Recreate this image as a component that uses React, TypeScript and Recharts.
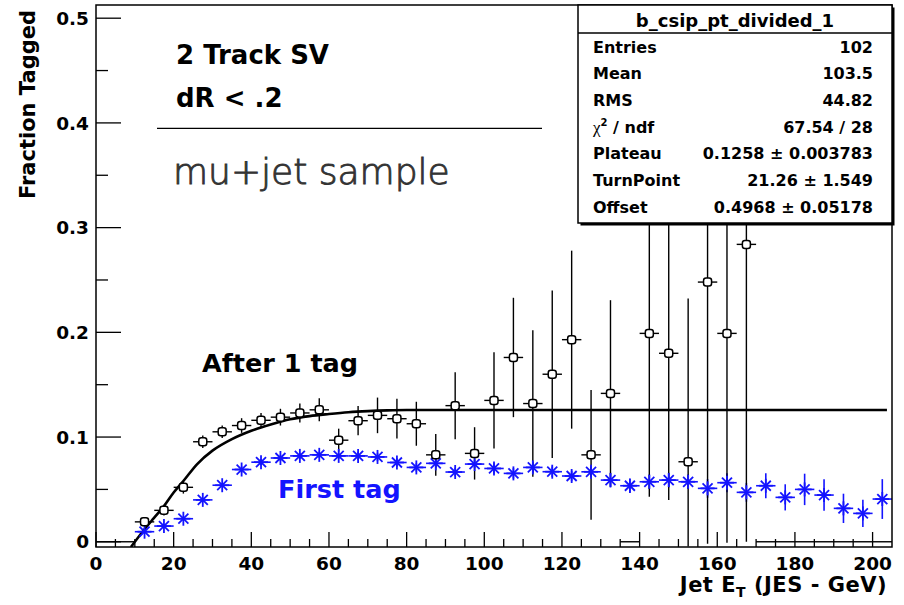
import { ComposedChart, Scatter, Line, XAxis, YAxis, ErrorBar } from "recharts";

// bin half width of the histogram (GeV)
const BIN_HALF = 2.5;

// "After 1 tag" (black open markers)
const afterX = [2.5, 7.5, 12.5, 17.5, 22.5, 27.5, 32.5, 37.5, 42.5, 47.5, 52.5, 57.5, 62.5, 67.5, 72.5, 77.5, 82.5, 87.5, 92.5, 97.5, 102.5, 107.5, 112.5, 117.5, 122.5, 127.5, 132.5, 137.5, 142.5, 147.5, 152.5, 157.5, 162.5, 167.5, 172.5, 177.5, 182.5, 187.5, 192.5, 197.5, 202.5];
const afterY = [0, 0, 0.019, 0.030, 0.052, 0.0955, 0.105, 0.111, 0.116, 0.119, 0.123, 0.126, 0.097, 0.1156, 0.1207, 0.1175, 0.1127, 0.083, 0.130, 0.0844, 0.135, 0.176, 0.132, 0.160, 0.193, 0.083, 0.1417, 0, 0.199, 0.180, 0.0764, 0.248, 0.199, 0.284, 0, 0, 0, 0, 0, 0, 0];
// lower / upper error, as far as they are visible inside the frame
const afterErrLow = [0, 0, 0.004, 0.005, 0.006, 0.006, 0.006, 0.007, 0.007, 0.008, 0.009, 0.011, 0.011, 0.014, 0.017, 0.019, 0.021, 0.020, 0.032, 0.025, 0.046, 0.057, 0.07, 0.08, 0.085, 0.062, 0.089, 0, 0.156, 0.14, 0.081, 0.25, 0.2, 0.284, 0, 0, 0, 0, 0, 0, 0];
const afterErrHigh = [0, 0, 0.004, 0.005, 0.006, 0.006, 0.006, 0.007, 0.007, 0.008, 0.009, 0.011, 0.011, 0.014, 0.017, 0.019, 0.021, 0.020, 0.032, 0.025, 0.046, 0.057, 0.07, 0.08, 0.085, 0.062, 0.089, 0, 0.156, 0.14, 0.156, 0.25, 0.2, 0.228, 0, 0, 0, 0, 0, 0, 0];

// "First tag" (blue stars)
const firstX = [12.5, 17.5, 22.5, 27.5, 32.5, 37.5, 42.5, 47.5, 52.5, 57.5, 62.5, 67.5, 72.5, 77.5, 82.5, 87.5, 92.5, 97.5, 102.5, 107.5, 112.5, 117.5, 122.5, 127.5, 132.5, 137.5, 142.5, 147.5, 152.5, 157.5, 162.5, 167.5, 172.5, 177.5, 182.5, 187.5, 192.5, 197.5, 202.5];
const firstY = [0.0096, 0.015, 0.022, 0.040, 0.054, 0.069, 0.076, 0.080, 0.082, 0.083, 0.082, 0.082, 0.081, 0.0757, 0.071, 0.0749, 0.0666, 0.0742, 0.070, 0.0653, 0.071, 0.0669, 0.0628, 0.0668, 0.0589, 0.0535, 0.0573, 0.0589, 0.0573, 0.051, 0.0564, 0.0472, 0.0535, 0.0424, 0.050, 0.0446, 0.0319, 0.0271, 0.0408];
const firstErr = [0.002, 0.002, 0.002, 0.002, 0.002, 0.003, 0.003, 0.003, 0.003, 0.003, 0.003, 0.004, 0.004, 0.004, 0.004, 0.004, 0.004, 0.004, 0.005, 0.005, 0.005, 0.005, 0.005, 0.005, 0.007, 0.007, 0.007, 0.007, 0.007, 0.009, 0.009, 0.009, 0.012, 0.0125, 0.015, 0.015, 0.014, 0.013, 0.019];

// fitted turn-on curve
const fitX = [9.0, 12.5, 15, 17.5, 20, 22.5, 26, 30, 35, 40, 45, 50, 55, 60, 65, 70, 75, 80, 203.7];
const fitY = [-0.005, 0.012, 0.023, 0.034, 0.047, 0.058, 0.074, 0.087, 0.098, 0.106, 0.112, 0.117, 0.120, 0.122, 0.1237, 0.1248, 0.1255, 0.1258, 0.1258];

const xMajorTicks = [0, 20, 40, 60, 80, 100, 120, 140, 160, 180, 200];
const yMajorTicks = [0, 0.1, 0.2, 0.3, 0.4, 0.5];
const xTicks = Array.from({ length: 41 }, (_, i) => i * 5);
const yTicks = Array.from({ length: 11 }, (_, i) => +(i * 0.05).toFixed(2));

const statsRows = [
  ["Entries", "102"],
  ["Mean", "103.5"],
  ["RMS", "44.82"],
  ["chi2", "67.54 / 28"],
  ["Plateau", "0.1258 \u00b1 0.003783"],
  ["TurnPoint", "21.26 \u00b1 1.549"],
  ["Offset", "0.4968 \u00b1 0.05178"],
];

const afterData = afterX.map((x, i) => ({ x, y: afterY[i], ex: BIN_HALF, ey: [afterErrLow[i], afterErrHigh[i]] }));
const firstData = firstX.map((x, i) => ({ x, y: firstY[i], ex: BIN_HALF, ey: firstErr[i] }));
const fitData = fitX.map((x, i) => ({ x, y: fitY[i] }));

const FONT = '"DejaVu Sans", sans-serif';
const BLUE = "#1414ff";
const L = 96, R = 892, T = 5, B = 547;

function XTick(props: any) {
  const { x, payload } = props;
  const v = payload.value;
  const major = xMajorTicks.includes(v);
  return (
    <g>
      <line x1={x} x2={x} y1={B} y2={B - (major ? 15 : 8)} stroke="#000" strokeWidth={1.3} />
      {major && (
        <text x={x} y={570} textAnchor="middle" fontFamily={FONT} fontWeight="bold" fontSize={18.5} fill="#000">
          {v}
        </text>
      )}
    </g>
  );
}

function YTick(props: any) {
  const { y, payload } = props;
  const v = payload.value;
  const major = yMajorTicks.some((t) => Math.abs(t - v) < 1e-6);
  return (
    <g>
      <line x1={L} x2={L + (major ? 25 : 12)} y1={y} y2={y} stroke="#000" strokeWidth={1.3} />
      {major && (
        <text x={89} y={y + 6.7} textAnchor="end" fontFamily={FONT} fontWeight="bold" fontSize={18.5} fill="#000">
          {v === 0 ? "0" : v.toFixed(1)}
        </text>
      )}
    </g>
  );
}

function OpenMarker(props: any) {
  const { cx, cy, payload } = props;
  if (!payload || payload.y === 0) return <g />;
  return <rect x={cx - 4} y={cy - 4} width={8} height={8} rx={2.5} fill="#fff" stroke="#000" strokeWidth={1.5} />;
}

function StarMarker(props: any) {
  const { cx, cy } = props;
  return (
    <g stroke={BLUE} strokeWidth={1.8}>
      <line x1={cx - 7} x2={cx + 7} y1={cy} y2={cy} />
      <line x1={cx} x2={cx} y1={cy - 7} y2={cy + 7} />
      <line x1={cx - 5} x2={cx + 5} y1={cy - 5} y2={cy + 5} />
      <line x1={cx - 5} x2={cx + 5} y1={cy + 5} y2={cy - 5} />
    </g>
  );
}

export default function App() {
  const rowBase = (i: number) => 52.5 + i * 26.67;
  return (
    <div style={{ position: "absolute", left: 0, top: 0, width: 904, height: 605, background: "#fff" }}>
      <ComposedChart width={904} height={605} margin={{ top: T, right: 904 - R, bottom: 605 - B - 40, left: L - 60 }}>
        <XAxis dataKey="x" type="number" domain={[0, 205]} ticks={xTicks} interval={0} height={40}
          axisLine={false} tickLine={false} tick={<XTick />} allowDataOverflow />
        <YAxis dataKey="y" type="number" domain={[-0.005, 0.5126]} ticks={yTicks} interval={0} width={60}
          axisLine={false} tickLine={false} tick={<YTick />} allowDataOverflow />
        <Line data={fitData} dataKey="y" type="monotone" stroke="#000" strokeWidth={2.6} dot={false} isAnimationActive={false} />
        <Scatter data={firstData} shape={<StarMarker />} isAnimationActive={false}>
          <ErrorBar dataKey="ex" direction="x" width={0} stroke={BLUE} strokeWidth={1.6} />
          <ErrorBar dataKey="ey" direction="y" width={0} stroke={BLUE} strokeWidth={1.6} />
        </Scatter>
        <Scatter data={afterData} shape={<OpenMarker />} isAnimationActive={false}>
          <ErrorBar dataKey="ex" direction="x" width={0} stroke="#000" strokeWidth={1.4} />
          <ErrorBar dataKey="ey" direction="y" width={0} stroke="#000" strokeWidth={1.4} />
        </Scatter>
      </ComposedChart>
      <svg width={904} height={605} style={{ position: "absolute", left: 0, top: 0, pointerEvents: "none" }}>
        <rect x={L} y={T} width={R - L} height={B - T} fill="none" stroke="#000" strokeWidth={1.5} />
        <g fontFamily={FONT} fontWeight="bold" fill="#000">
          <text x={176} y={64} fontSize={26}>2 Track SV</text>
          <text x={176} y={106.5} fontSize={26}>dR &lt; .2</text>
          <text x={202} y={372} fontSize={25.5}>After 1 tag</text>
          <text x={278} y={498} fontSize={25.5} fill={BLUE}>First tag</text>
          <text transform="translate(35,10) rotate(-90)" textAnchor="end" fontSize={21}>Fraction Tagged</text>
          <text x={887} y={591.5} textAnchor="end" fontSize={21} letterSpacing={0.5}>
            Jet E<tspan fontSize={14} dy={5}>T</tspan>
            <tspan dy={-5}> (JES - GeV)</tspan>
          </text>
        </g>
        <line x1={157} x2={542} y1={128.3} y2={128.3} stroke="#000" strokeWidth={1.2} />
        <text x={173} y={183.5} fontFamily={FONT} fontWeight={300} fontSize={36} fill="#333" stroke="#333" strokeWidth={0.9}>mu+jet sample</text>
        <rect x={580.5} y={7.5} width={314} height={218} fill="#000" />
        <rect x={578} y={5} width={314} height={218} fill="#fff" stroke="#000" strokeWidth={1.5} />
        <line x1={578} x2={892} y1={33} y2={33} stroke="#000" strokeWidth={1.3} />
        <g fontFamily={FONT} fontWeight="bold" fill="#000">
          <text x={735} y={26.5} textAnchor="middle" fontSize={18}>b_csip_pt_divided_1</text>
          {statsRows.map(([k, v], i) => (
            <g key={k} fontSize={16}>
              {k === "chi2" ? (
                <text x={593} y={rowBase(i)}>
                  <tspan fontFamily="serif" fontWeight="normal" fontSize={17}>{"\u03c7"}</tspan>
                  <tspan dy={-7} fontSize={10}>2</tspan>
                  <tspan dy={7}> / ndf</tspan>
                </text>
              ) : (
                <text x={593} y={rowBase(i)}>{k}</text>
              )}
              <text x={873} y={rowBase(i)} textAnchor="end">{v}</text>
            </g>
          ))}
        </g>
      </svg>
    </div>
  );
}
